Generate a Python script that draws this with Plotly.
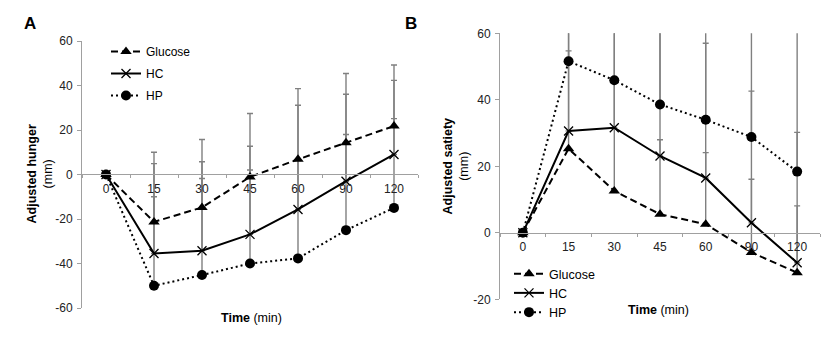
import plotly.graph_objects as go

times = ["0", "15", "30", "45", "60", "90", "120"]

# Panel A: adjusted hunger (mm)
hunger_glucose = [0, -21.3, -14.8, -1.1, 6.8, 14.3, 21.8]
hunger_hc = [0, -35.5, -34.3, -26.9, -15.7, -3.0, 9.0]
hunger_hp = [0, -50.0, -45.2, -40.0, -37.7, -25.0, -15.0]
hunger_glucose_err = [0, 31.3, 30.5, 28.5, 31.8, 31.1, 27.4]
hunger_hc_err = [0, 40.4, 40.0, 39.6, 46.8, 39.1, 33.3]
hunger_hp_err = [0, 40.0, 43.4, 42.0, 44.0, 43.0, 40.1]
hunger_ticks = [-60, -40, -20, 0, 20, 40, 60]
hunger_ticktext = ["-60", "-40", "-20", "0", "20", "40", "60"]

# Panel B: adjusted satiety (mm)
satiety_glucose = [0, 25.3, 12.6, 5.6, 2.6, -5.9, -12.0]
satiety_hc = [0, 30.6, 31.6, 23.1, 16.5, 3.0, -9.0]
satiety_hp = [0, 51.6, 45.9, 38.6, 34.0, 28.8, 18.4]
satiety_glucose_err = [0, 29.4, 33.0, 22.4, 21.5, 22.0, 20.1]
satiety_hc_err = [0, 35.0, 32.0, 38.0, 40.5, 39.6, 39.2]
satiety_hp_err = [0, 30.0, 30.0, 30.0, 30.0, 32.0, 42.0]
satiety_ticks = [-20, 0, 20, 40, 60]
satiety_ticktext = ["-20", "0", "20", "40", "60"]

series_names = ["Glucose", "HC", "HP"]

FONT = "Liberation Sans, Arial, sans-serif"
AXIS_GREY = "#a0a0a0"
ERR_GREY = "#808080"

styles = {
    "Glucose": dict(dash="7px,4px", symbol="triangle-up", size=10),
    "HC": dict(dash="solid", symbol="x-thin", size=9),
    "HP": dict(dash="2px,3px", symbol="circle", size=10),
}

fig = go.Figure()

panels = [
    ("x", "y", "legend", "a", [hunger_glucose, hunger_hc, hunger_hp],
     [hunger_glucose_err, hunger_hc_err, hunger_hp_err]),
    ("x2", "y2", "legend2", "b", [satiety_glucose, satiety_hc, satiety_hp],
     [satiety_glucose_err, satiety_hc_err, satiety_hp_err]),
]

for xa, ya, lg, tag, vals, errs in panels:
    # error bars first (drawn underneath)
    for name, v, e in zip(series_names, vals, errs):
        fig.add_trace(go.Scatter(
            x=times, y=v, xaxis=xa, yaxis=ya, mode="markers",
            marker=dict(opacity=0, size=1),
            error_y=dict(type="data", array=e, arrayminus=[0] * len(e),
                         symmetric=False, color=ERR_GREY, thickness=1.4, width=3),
            showlegend=False, hoverinfo="skip"))
    for name, v in zip(series_names, vals):
        s = styles[name]
        marker = dict(symbol=s["symbol"], size=s["size"], color="black")
        if name == "HC":
            marker["line"] = dict(color="black", width=1.3)
        fig.add_trace(go.Scatter(
            x=times, y=v, xaxis=xa, yaxis=ya, mode="lines+markers", name=name,
            line=dict(color="black", width=2, dash=s["dash"]),
            marker=marker, legend=lg, legendgroup=tag + name))

W, H = 832, 338

def px(x):
    return x / W

def py(y):
    return 1 - y / H

axis_common = dict(
    showline=True, linecolor=AXIS_GREY, linewidth=1, showgrid=False, zeroline=False,
    ticks="outside", ticklen=4, tickcolor=AXIS_GREY,
    tickfont=dict(family=FONT, size=12, color="#222222"),
)

def ann(text, x, y, size=12.5, angle=0):
    return dict(text=text, x=px(x), y=py(y), xref="paper", yref="paper",
                xanchor="center", yanchor="middle", showarrow=False,
                textangle=angle, font=dict(family=FONT, size=size, color="black"))

fig.update_layout(
    width=W, height=H, margin=dict(l=0, r=0, t=0, b=0, autoexpand=False),
    paper_bgcolor="white", plot_bgcolor="white",
    font=dict(family=FONT, size=12, color="black"),
    xaxis=dict(axis_common, type="category", domain=[px(82), px(418)],
               range=[-0.5, 6.5], anchor="free", position=py(174.3),
               tickson="boundaries", ticklen=3, ticklabelstandoff=3),
    yaxis=dict(axis_common, domain=[py(308), py(41)], range=[-60, 60],
               tickvals=hunger_ticks, ticktext=hunger_ticktext, anchor="x",
               ticklabelstandoff=2),
    xaxis2=dict(axis_common, type="category", domain=[px(500), px(820)],
                range=[-0.5, 6.5], anchor="free", position=py(232.7),
                tickson="boundaries", ticklen=3, ticklabelstandoff=3),
    yaxis2=dict(axis_common, domain=[py(299.3), py(33.3)], range=[-20, 60],
                tickvals=satiety_ticks, ticktext=satiety_ticktext, anchor="x2",
                ticklabelstandoff=2),
    legend=dict(x=px(106), y=py(37), xanchor="left", yanchor="top",
                bgcolor="rgba(0,0,0,0)", font=dict(family=FONT, size=12),
                tracegroupgap=3, itemwidth=30),
    legend2=dict(x=px(509), y=py(259), xanchor="left", yanchor="top",
                 bgcolor="rgba(0,0,0,0)", font=dict(family=FONT, size=12.5),
                 tracegroupgap=0, itemwidth=30),
    annotations=[
        ann("<b>A</b>", 30, 23, size=17),
        ann("<b>B</b>", 411, 23, size=17),
        ann("<b>Adjusted hunger</b><br>(mm)", 39, 174.5, angle=-90),
        ann("<b>Adjusted satiety</b><br>(mm)", 455, 166.5, angle=-90),
        ann("<b>Time</b> (min)", 251.5, 318),
        ann("<b>Time</b> (min)", 658, 310),
    ],
)

fig.write_html("out.html")
